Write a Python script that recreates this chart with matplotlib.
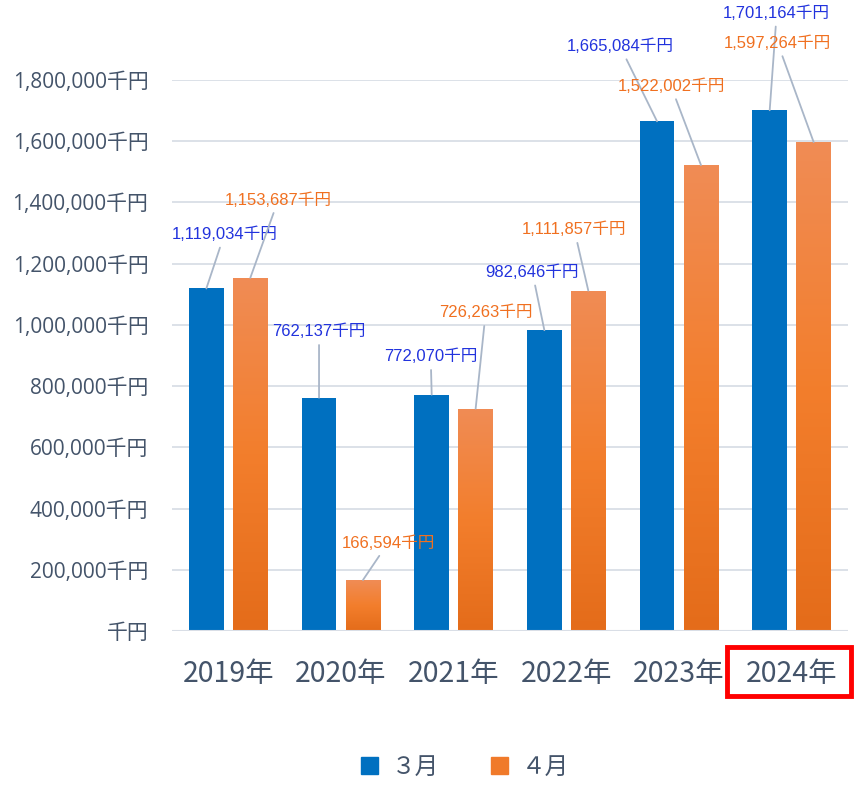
import numpy as np
import matplotlib
matplotlib.use("Agg")
import matplotlib.pyplot as plt
from matplotlib.colors import LinearSegmentedColormap
from matplotlib.patches import Rectangle
from matplotlib.ticker import FuncFormatter

plt.rcParams['font.family'] = ['Noto Sans CJK JP', 'DejaVu Sans']

# データ
years = ['2019年', '2020年', '2021年', '2022年', '2023年', '2024年']
march = [1119034, 762137, 772070, 982646, 1665084, 1701164]
april = [1153687, 166594, 726263, 1111857, 1522002, 1597264]
series_names = ['３月', '４月']

# ラベルの位置（バー上端からのずれ、ピクセル）
march_offsets = [(18, 54), (0, 66), (-1, 38), (-12, 58), (-37, 75), (7, 97)]
april_offsets = [(28, 78), (25, 37), (10, 96), (-14, 61), (-30, 79), (-36, 99)]

blue = '#0070C0'
label_blue = '#2233DD'
label_orange = '#F07020'
tick_color = '#44546A'
grid_color = '#D9DEE6'
orange_cmap = LinearSegmentedColormap.from_list(
    'orange', ['#E46C1A', '#F37E2C', '#F08C55'])

fig = plt.figure(figsize=(8.59, 7.85), dpi=100)
ax = fig.add_axes([172 / 859, 1 - 631 / 785, 676 / 859, 551 / 785])

x = np.arange(len(years))
w = 0.31
bars_m = ax.bar(x - 0.195, march, w, color=blue, zorder=3)
bars_a = ax.bar(x + 0.195, april, w, color='none', zorder=3)

# 4月のバーはグラデーション
grad = np.linspace(0, 1, 256).reshape(-1, 1)
for b in bars_a:
    x0, y0 = b.get_x(), b.get_y()
    im = ax.imshow(grad, cmap=orange_cmap, origin='lower', aspect='auto',
                   extent=[x0, x0 + b.get_width(), y0, y0 + b.get_height()],
                   zorder=3)
    im.set_clip_path(b)

ax.set_xlim(-0.5, len(years) - 0.5)
ax.set_ylim(0, 1800000)
ax.set_yticks(np.arange(0, 1800001, 200000))
ax.yaxis.set_major_formatter(FuncFormatter(
    lambda v, p: f'{v:,.0f}千円' if v else '千円'))
ax.set_xticks(x)
ax.set_xticklabels(years)
ax.grid(axis='y', color=grid_color, linewidth=1.3, zorder=0)
for s in ax.spines.values():
    s.set_visible(False)
ax.axhline(0, color=grid_color, linewidth=1.5, zorder=4)
ax.tick_params(axis='y', length=0, pad=17, labelcolor=tick_color)
ax.tick_params(axis='x', length=0, pad=20, labelsize=20.5, labelcolor=tick_color)
for t in ax.get_yticklabels():
    t.set_family(['Open Sans', 'Noto Sans CJK JP'])
    t.set_fontsize(15)


def add_labels(bars, values, offsets, color):
    for b, v, (dx, dy) in zip(bars, values, offsets):
        ax.annotate(f'{v:,}千円', xy=(b.get_x() + b.get_width() / 2, v),
                    xytext=(dx, dy), textcoords='offset pixels',
                    ha='center', va='center', fontsize=12, color=color,
                    family=['Liberation Sans', 'Noto Sans CJK JP'],
                    annotation_clip=False, zorder=5,
                    arrowprops=dict(arrowstyle='-', color='#A9B6C8', lw=1.3,
                                    shrinkA=2, shrinkB=0))


add_labels(bars_m, march, march_offsets, label_blue)
add_labels(bars_a, april, april_offsets, label_orange)

# 2024年を赤枠で強調
fig.patches.append(Rectangle((727 / 859, 1 - 696 / 785), 124 / 859, 49 / 785,
                             transform=fig.transFigure, fill=False,
                             edgecolor='#FF0000', linewidth=3.5))

# 凡例
handles = [Rectangle((0, 0), 1, 1, color=blue),
           Rectangle((0, 0), 1, 1, color='#F07A2A')]
leg = fig.legend(handles, series_names, loc='center', ncol=2,
                 bbox_to_anchor=(465 / 859, 1 - 767 / 785), frameon=False,
                 fontsize=17, handlelength=0.7, handleheight=0.7,
                 columnspacing=2.2, handletextpad=0.6)
for t in leg.get_texts():
    t.set_color(tick_color)

fig.savefig('out.png', dpi=100)
